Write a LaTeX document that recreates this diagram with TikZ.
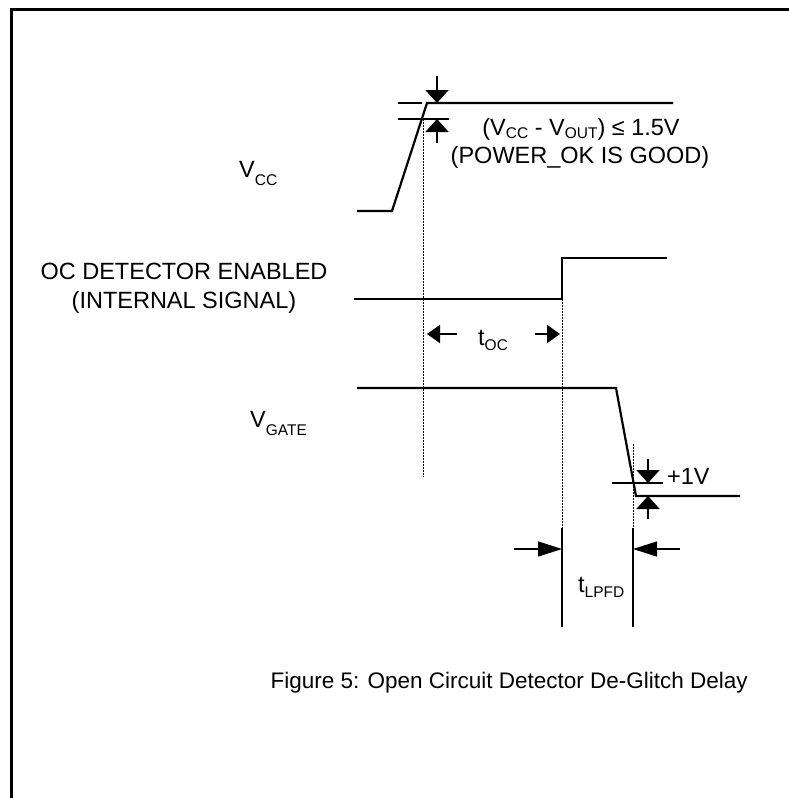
\documentclass[tikz,border=0pt]{standalone}
\usepackage{fontspec}
\setmainfont{Liberation Sans}
\usetikzlibrary{arrows.meta, calc}
\tikzset{
    timing/.style={x=1pt, y=-1pt, font=\fontsize{23.5}{28}\selectfont},
    wave/.style={line width=2.2pt},
    guide/.style={line width=1pt, dash pattern=on 1.5pt off 1.5pt},
    extline/.style={line width=2pt},
    tickline/.style={line width=2pt},
    % filled heads: level marks, span marks, delay marks
    levelarrow/.style={line width=2pt, -{Triangle[length=13pt, width=23pt]}},
    spanarrow/.style={line width=2pt, -{Triangle[length=13pt, width=18pt]}},
    delayarrow/.style={line width=1.5pt, -{Triangle[length=24pt, width=15pt]}},
    sigtext/.style={inner sep=0pt, anchor=base west},
    midtext/.style={inner sep=0pt, anchor=base},
}
\newcommand{\sublow}[2][3pt]{\raisebox{-#1}{\fontsize{15.5}{15.5}\selectfont #2}}

\begin{document}
\begin{tikzpicture}[timing]
    \useasboundingbox (0,0) rectangle (789,798);
    \coordinate (framebl) at (11.5,798);
    \coordinate (frametr) at (789,9.5);
    \draw[line width=3.5pt] (framebl) |- (frametr);

    % V_CC rising edge
    \coordinate (vcclow)  at (392,211);
    \coordinate (vcctop)  at (427,103);
    \coordinate (vccok)   at (423,119);
    \draw[wave] (357,211) -- (vcclow) -- (vcctop) -- (673,103);
    \draw[tickline] (398,103) -- (422,103);
    \draw[tickline] (398,119) -- (449,119);
    \draw[levelarrow] (437,76) -- (437,103);
    \draw[levelarrow] (437,143) -- (437,119);
    \draw[guide] (vccok) -- (423,477);

    % detector enable
    \coordinate (ocstep) at (562,299);
    \draw[wave] (354,299) -- (ocstep) -- (562,258) -- (667,258);
    \coordinate (ocext) at (562,528);
    \draw[guide] (ocstep) -- (ocext);
    \draw[extline] (ocext) -- (562,627);
    \draw[spanarrow] (457,334) -- (427,334);
    \draw[spanarrow] (535,334) -- (560,334);

    % V_GATE falling edge
    \coordinate (gatefall) at (616,388);
    \coordinate (gatelow)  at (636,496);
    \draw[wave] (357,388) -- (gatefall) -- (gatelow) -- (740,496);
    \draw[tickline] (612,483) -- (663,483);
    \draw[levelarrow] (648,459) -- (648,483);
    \draw[levelarrow] (648,519) -- (648,496);
    \coordinate (gateguide) at (633,444);
    \coordinate (gateext)   at (633,528);
    \draw[guide] (gateguide) -- (gateext);
    \draw[extline] (gateext) -- (633,627);
    \draw[delayarrow] (514,549) -- (562,549);
    \draw[delayarrow] (680,549) -- (633,549);

    % texts
    \node[sigtext] (vcclabel)  at (239,177) {V\sublow[8pt]{CC}};
    \node[midtext] (octext)    at (184,279) {OC DETECTOR ENABLED};
    \node[midtext] (ocnote)    at (184,308) {(INTERNAL SIGNAL)};
    \node[sigtext] (gatelabel) at (250,427) {V\sublow[8pt]{GATE}};
    \node[midtext] (okcond)    at (581,135) {(V\sublow{CC} - V\sublow{OUT}) ≤ 1.5V};
    \node[midtext] (oknote)    at (580,163) {(POWER\_OK IS GOOD)};
    \node[sigtext] (toc)       at (478,345) {t\sublow[5pt]{OC}};
    \node[sigtext] (onevolt)   at (667,484) {+1V};
    \node[sigtext] (tlpfd)     at (578,592) {t\sublow[5pt]{LPFD}};
    \node[inner sep=0pt, anchor=base east, font=\fontsize{22.5}{27}\selectfont]
        (caption) at (748,688) {Figure 5: Open Circuit Detector De-Glitch Delay};
\end{tikzpicture}
\end{document}
